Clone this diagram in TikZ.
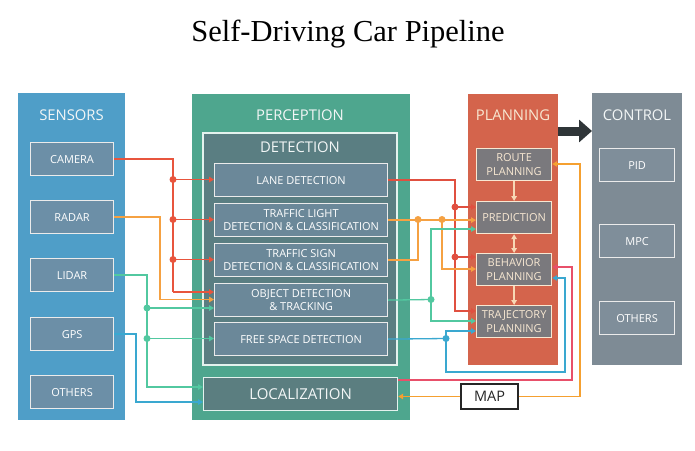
\documentclass[tikz,border=0pt]{standalone}
\usepackage{fontspec}
\setmainfont{Liberation Serif}
\setsansfont{Open Sans}
\usetikzlibrary{arrows.meta}
\definecolor{sensC}{HTML}{4F9EC8}
\definecolor{sboxC}{HTML}{6C8FA7}
\definecolor{percC}{HTML}{4EA68E}
\definecolor{detC}{HTML}{5A7E82}
\definecolor{pboxC}{HTML}{6B8899}
\definecolor{locC}{HTML}{5B7E80}
\definecolor{planC}{HTML}{D4644C}
\definecolor{plboxC}{HTML}{7A797D}
\definecolor{ctlC}{HTML}{7E8B95}
\definecolor{cboxC}{HTML}{7F8E9A}
\definecolor{camC}{HTML}{E8553D}
\definecolor{radC}{HTML}{F5A142}
\definecolor{lidC}{HTML}{52C8A0}
\definecolor{gpsC}{HTML}{3AA8D0}
\definecolor{laneC}{HTML}{E05040}
\definecolor{locLC}{HTML}{E8506A}
\definecolor{mapC}{HTML}{F5A030}
\definecolor{plArr}{HTML}{F7D8B5}
\definecolor{bigArr}{HTML}{2F3538}
\definecolor{hdrT}{HTML}{F2F6F6}
\definecolor{plT}{HTML}{F8E8D2}
\begin{document}
\begin{tikzpicture}[x=1pt,y=-1pt,
  panel/.style={rectangle, inner sep=0pt, outer sep=0pt, anchor=north west},
  hdr/.style={font=\sffamily\fontsize{14.8}{16}\selectfont, text=hdrT, inner sep=0pt},
  ibox/.style={rectangle, draw=white!92!black, line width=1.2pt, text=white, font=\sffamily\fontsize{11}{13.5}\selectfont, align=center, inner sep=0pt, anchor=north west},
  con/.style={line width=1.3pt},
  tip/.style={-{Triangle[length=5pt,width=5.5pt]}},
  dot/.style={circle, fill, inner sep=0pt, minimum size=7pt}]
\useasboundingbox (0,0) rectangle (695,450);
\fill[white] (0,0) rectangle (695,450);
\node[font=\rmfamily\fontsize{30.5}{34}\selectfont, anchor=base, inner sep=0pt] (title) at (348,41) {Self-Driving Car Pipeline};
% sensors
\node[panel, fill=sensC, minimum width=107pt, minimum height=327pt] (sensors) at (18,93) {};
\node[hdr] (sensH) at (71.5,115) {SENSORS};
\node[ibox, fill=sboxC, minimum width=83pt, minimum height=33pt] (camera) at (30,142) {CAMERA};
\node[ibox, fill=sboxC, minimum width=83pt, minimum height=33pt] (radar) at (30,200) {RADAR};
\node[ibox, fill=sboxC, minimum width=83pt, minimum height=33pt] (lidar) at (30,258) {LIDAR};
\node[ibox, fill=sboxC, minimum width=83pt, minimum height=33pt] (gps) at (30,317) {GPS};
\node[ibox, fill=sboxC, minimum width=83pt, minimum height=33pt] (sothers) at (30,375) {OTHERS};
% perception
\node[panel, fill=percC, minimum width=218pt, minimum height=326pt] (perception) at (192,94) {};
\node[hdr] (percH) at (300,115) {PERCEPTION};
\node[panel, fill=detC, draw=white!85!percC, line width=1.2pt, minimum width=194pt, minimum height=232pt] (detection) at (203,133) {};
\node[hdr] (detH) at (300,147) {DETECTION};
\node[ibox, fill=pboxC, minimum width=173pt, minimum height=33pt] (lane) at (214,163) {LANE DETECTION};
\node[ibox, fill=pboxC, minimum width=173pt, minimum height=33pt] (tlight) at (214,203) {TRAFFIC LIGHT\\DETECTION \& CLASSIFICATION};
\node[ibox, fill=pboxC, minimum width=173pt, minimum height=33pt] (tsign) at (214,243) {TRAFFIC SIGN\\DETECTION \& CLASSIFICATION};
\node[ibox, fill=pboxC, minimum width=173pt, minimum height=33pt] (obj) at (214,283) {OBJECT DETECTION\\\& TRACKING};
\node[ibox, fill=pboxC, minimum width=173pt, minimum height=33pt] (free) at (214,322) {FREE SPACE DETECTION};
\node[ibox, fill=locC, draw=white!85!percC, minimum width=194pt, minimum height=33pt, font=\sffamily\fontsize{15}{16}\selectfont, text=hdrT] (loc) at (203,377) {LOCALIZATION};
% planning
\node[panel, fill=planC, minimum width=90pt, minimum height=271pt] (planning) at (468,94) {};
\node[hdr, text=plT] (planH) at (513,115) {PLANNING};
\node[ibox, fill=plboxC, draw=plT, minimum width=75pt, minimum height=32pt, text=plT] (route) at (476,148) {ROUTE\\PLANNING};
\node[ibox, fill=plboxC, draw=plT, minimum width=75pt, minimum height=32pt, text=plT] (pred) at (476,201) {PREDICTION};
\node[ibox, fill=plboxC, draw=plT, minimum width=75pt, minimum height=32pt, text=plT] (beh) at (476,253) {BEHAVIOR\\PLANNING};
\node[ibox, fill=plboxC, draw=plT, minimum width=75pt, minimum height=32pt, text=plT] (traj) at (476,305) {TRAJECTORY\\PLANNING};
% control
\node[panel, fill=ctlC, minimum width=90pt, minimum height=272pt] (control) at (592,93) {};
\node[hdr] (ctlH) at (637,115) {CONTROL};
\node[ibox, fill=cboxC, minimum width=75pt, minimum height=33pt] (pid) at (599,148) {PID};
\node[ibox, fill=cboxC, minimum width=75pt, minimum height=33pt] (mpc) at (599,224) {MPC};
\node[ibox, fill=cboxC, minimum width=75pt, minimum height=33pt] (cothers) at (599,301) {OTHERS};
% map
\node[draw=black!85, fill=white, line width=1.2pt, minimum width=57pt, minimum height=25pt, font=\sffamily\fontsize{14.5}{16}\selectfont, text=black!85, inner sep=0pt] (map) at (489.5,396.5) {MAP};
% sensor connectors
\coordinate (cA) at (173,179.5); \coordinate (cB) at (173,219.5);
\coordinate (cC) at (173,259.5); \coordinate (cD) at (173,292);
\draw[con, camC] (camera.east) -| (cD);
\draw[con, camC, tip] (cD) -- (obj.west |- cD);
\draw[con, camC, tip] (cA) -- (lane.west |- cA);
\draw[con, camC, tip] (cB) -- (tlight.west |- cB);
\draw[con, camC, tip] (cC) -- (tsign.west |- cC);
\node[dot, camC] (dA) at (cA) {}; \node[dot, camC] (dB) at (cB) {}; \node[dot, camC] (dC) at (cC) {};
\coordinate (rA) at (160,299.5);
\draw[con, radC, tip] (radar.east) -| (rA) -- (obj.west |- rA);
\coordinate (lA) at (147,308); \coordinate (lB) at (147,338.5); \coordinate (lC) at (147,387);
\draw[con, lidC, tip] (lidar.east) -| (lC) -- (loc.west |- lC);
\draw[con, lidC, tip] (lA) -- (obj.west |- lA);
\draw[con, lidC, tip] (lB) -- (free.west |- lB);
\node[dot, lidC] (dlA) at (lA) {}; \node[dot, lidC] (dlB) at (lB) {};
\coordinate (gA) at (136,402);
\draw[con, gpsC, tip] (gps.east) -| (gA) -- (loc.west |- gA);
% perception -> planning
\coordinate (pA) at (455,207); \coordinate (pB) at (455,257); \coordinate (pC) at (455,311);
\draw[con, laneC, tip] (lane.east) -| (pC) -- (traj.west |- pC);
\draw[con, laneC, tip] (pA) -- (pred.west |- pA);
\draw[con, laneC, tip] (pB) -- (beh.west |- pB);
\node[dot, laneC] (dpA) at (pA) {}; \node[dot, laneC] (dpB) at (pB) {};
\coordinate (tA) at (418,219.5); \coordinate (tB) at (442,219.5); \coordinate (tC) at (442,269);
\draw[con, radC, tip] (tlight.east) -- (pred.west |- tlight.east);
\draw[con, radC] (tsign.east) -| (tA);
\draw[con, radC, tip] (tB) -- (tC) -- (beh.west |- tC);
\node[dot, radC] (dtA) at (tA) {}; \node[dot, radC] (dtB) at (tB) {};
\coordinate (oA) at (431,299.5); \coordinate (oB) at (431,229); \coordinate (oC) at (431,321);
\draw[con, lidC] (obj.east) -- (oA);
\draw[con, lidC, tip] (oA) -- (oB) -- (pred.west |- oB);
\draw[con, lidC, tip] (oA) -- (oC) -- (traj.west |- oC);
\node[dot, lidC] (doA) at (oA) {};
\coordinate (fA) at (446,338.5); \coordinate (fB) at (446,331); \coordinate (fC) at (446,372);
\coordinate (fD) at (565,372); \coordinate (fE) at (565,278);
\draw[con, gpsC] (free.east) -- (fA);
\draw[con, gpsC, tip] (fA) -- (fB) -- (traj.west |- fB);
\draw[con, gpsC, tip] (fA) -- (fC) -- (fD) -- (fE) -- (beh.east |- fE);
\node[dot, gpsC] (dfA) at (fA) {};
\coordinate (lo1) at (572,380); \coordinate (lo2) at (572,267);
\draw[con, locLC, tip] (loc.east |- lo1) -- (lo1) -- (lo2) -- (beh.east |- lo2);
\coordinate (m1) at (580,396.5); \coordinate (m2) at (580,164);
\draw[con, mapC, tip] (map.west) -- (loc.east |- map.west);
\draw[con, mapC, tip] (map.east) -- (m1) -- (m2) -- (route.east |- m2);
% planning internal
\draw[con, plArr, tip] (route.south) -- (pred.north);
\draw[con, plArr, {Triangle[length=5pt,width=5.5pt]}-{Triangle[length=5pt,width=5.5pt]}] (pred.south) -- (beh.north);
\draw[con, plArr, tip] (beh.south) -- (traj.north);
% big arrow
\path (planning.north east) ++(0,37) coordinate (ba);
\draw[line width=9pt, bigArr, -{Triangle[length=13pt,width=22pt]}] (ba) -- (ba -| control.west);
\end{tikzpicture}
\end{document}
